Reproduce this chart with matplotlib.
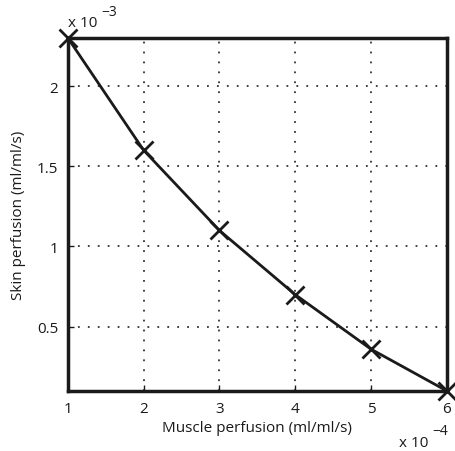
import matplotlib.pyplot as plt

# data (x in 1e-4, y in 1e-3)
muscle = [1, 2, 3, 4, 5, 6]
skin = [2.3, 1.6, 1.1, 0.7, 0.36, 0.1]
xticks = [1, 2, 3, 4, 5, 6]
yticks = [0.5, 1, 1.5, 2]

plt.rcParams['font.family'] = ['Open Sans', 'DejaVu Sans']

fig = plt.figure(figsize=(4.55, 4.52), dpi=100)
ax = fig.add_axes([0.149, 0.133, 0.833, 0.781])

ax.plot(muscle, skin, color='#1a1a1a', lw=2, marker='x', ms=13, mew=2,
        clip_on=False, zorder=5)

ax.set_xlim(1, 6)
ax.set_ylim(0.1, 2.3)
ax.set_xticks(xticks)
ax.set_yticks(yticks)
ax.set_xticklabels([str(t) for t in xticks])
ax.set_yticklabels(['0.5', '1', '1.5', '2'])
ax.grid(True, color='#333333', linestyle=(0, (1, 4.5)), lw=1.3)
ax.tick_params(direction='in', length=4, width=1, labelsize=11, pad=7,
               colors='#1a1a1a')
for s in ax.spines.values():
    s.set_linewidth(2.5)
    s.set_color('#1a1a1a')

ax.set_xlabel('Muscle perfusion (ml/ml/s)', fontsize=11, labelpad=3,
              color='#1a1a1a')
ax.set_ylabel('Skin perfusion (ml/ml/s)', fontsize=11, labelpad=8,
              color='#1a1a1a')

fig.text(0.149, 0.94, 'x 10', fontsize=11, color='#1a1a1a')
fig.text(0.222, 0.965, '\u22123', fontsize=10, color='#1a1a1a')
fig.text(0.878, 0.012, 'x 10', fontsize=11, color='#1a1a1a')
fig.text(0.95, 0.037, '\u22124', fontsize=10, color='#1a1a1a')

fig.savefig('out.png', dpi=100)
